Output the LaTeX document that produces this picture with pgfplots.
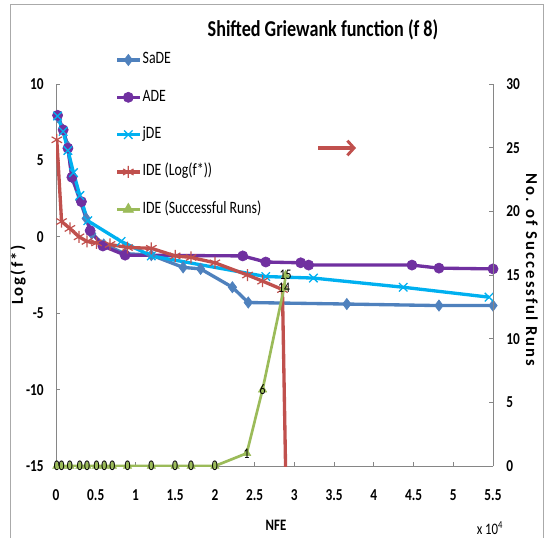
\documentclass[border=0pt]{standalone}
\usepackage{fontspec}
\setmainfont{Carlito}[FakeStretch=0.8]
\newfontfamily\vfont{Carlito}[LetterSpace=12]
\usepackage{pgfplots}
\pgfplotsset{compat=1.18}
\usetikzlibrary{arrows.meta}
\definecolor{sade}{HTML}{4F81BD}
\definecolor{ade}{HTML}{7030A0}
\definecolor{jde}{HTML}{00B0F0}
\definecolor{ide}{HTML}{C0504D}
\definecolor{succ}{HTML}{9BBB59}
\definecolor{axgray}{HTML}{868686}

\pgfplotstableread{
x y
200 7.85
900 7.0
1500 5.9
2000 3.9
3000 2.4
3800 1.2
4500 0.2
6000 -0.5
8700 -1.1
12000 -1.2
16000 -2.0
18200 -2.1
22200 -3.3
24200 -4.3
36600 -4.4
48200 -4.5
55000 -4.5
}\sade
\pgfplotstableread{
x y
200 7.95
900 7.0
1500 5.8
2000 3.9
3200 2.3
4300 0.4
5900 -0.6
8700 -1.2
23500 -1.25
26400 -1.65
30800 -1.7
31800 -1.85
44800 -1.85
48200 -2.05
55000 -2.1
}\ade
\pgfplotstableread{
x y
200 7.9
900 6.9
1500 5.65
2200 4.2
3000 2.7
4000 1.05
8200 -0.3
12000 -1.25
26400 -2.6
32400 -2.7
43700 -3.3
54500 -3.95
}\jde
\pgfplotstableread{
x y
100 6.35
700 1.0
1750 0.55
2900 0.0
3900 -0.3
5100 -0.4
6800 -0.5
9000 -0.7
12000 -0.75
15000 -1.25
17000 -1.35
20000 -1.7
24100 -2.5
26000 -2.9
28500 -3.45
28900 -15.3
}\idelog
\pgfplotstableread{
x y
100 0
700 0
1750 0
3000 0
3900 0
5100 0
6100 0
7100 0
9000 0
12000 0
15000 0
17000 0
20000 0
24000 1
26000 6
28700 14
28900 15
}\idesucc

\begin{document}
\begin{tikzpicture}
\useasboundingbox (0pt,0pt) rectangle (408.75pt,-402.75pt);
\draw[axgray!70, line width=0.6pt] (7.5pt,-3pt) rectangle (407.25pt,-410pt);
\pgfplotsset{
  common/.style={
    at={(42pt,-349.5pt)}, anchor=south west,
    scale only axis, width=327.75pt, height=286.5pt,
    xmin=0, xmax=55000,
    axis line style={draw=axgray, line width=0.6pt, -},
    tick style={draw=axgray, line width=0.6pt},
    major tick length=3pt,
    tick align=inside,
    tick label style={font=\bfseries\fontsize{12.5}{14}\selectfont, inner sep=0pt},
    /pgf/number format/assume math mode=true,
  }
}
\begin{axis}[common,
  axis x line*=bottom, axis y line*=left,
  ymin=-15, ymax=10, ytick={-15,-10,...,10},
  xtick={0,5000,...,55000},
  xticklabels={0,0.5,1,1.5,2,2.5,3,3.5,4,4.5,5,5.5},
  scaled x ticks=false,
  xticklabel style={yshift=-17.5pt},
  yticklabel style={xshift=-9pt},
  legend style={at={(0.126,1.095)}, anchor=north west, draw=none, fill=none,
    font=\fontsize{13}{14}\selectfont, row sep=14pt,
    nodes={inner sep=1pt, text height=9pt, text depth=3pt}},
  legend cell align=left,
  legend image code/.code={
    \draw[#1] (0pt,0pt) -- (17pt,0pt);
    \draw[#1, mark repeat=2, mark phase=2] plot coordinates {(0pt,0pt) (8.5pt,0pt) (17pt,0pt)};
  },
]
\addplot[color=sade, line width=2.5pt, mark=diamond*, mark size=4.2pt, mark options={solid, line width=0.5pt}] table[x=x,y=y] {\sade};
\addlegendentry{SaDE}
\addplot[color=ade, line width=2.5pt, mark=*, mark size=3.8pt, mark options={solid, line width=0.5pt}] table[x=x,y=y] {\ade};
\addlegendentry{ADE}
\addplot[color=jde, line width=2.5pt, mark=x, mark size=4.5pt, mark options={solid, line width=1pt}] table[x=x,y=y] {\jde};
\addlegendentry{jDE}
\addplot[color=ide, line width=2.5pt, mark=asterisk, mark size=4.5pt, mark options={solid, line width=0.9pt}] table[x=x,y=y] {\idelog};
\addlegendentry{IDE (Log(f*))}
\addlegendimage{color=succ, line width=2.5pt, mark=triangle*, mark size=4.5pt, mark options={solid, line width=0.5pt}}
\addlegendentry{IDE (Successful Runs)}
\end{axis}
\begin{axis}[common,
  axis y line*=right, axis x line=none,
  ymin=0, ymax=30, ytick={0,5,...,30},
  yticklabel style={xshift=9.75pt},
]
\addplot[color=succ, line width=2pt, mark=triangle*, mark size=3.6pt, mark options={solid, line width=0.4pt},
  nodes near coords, every node near coord/.append style={anchor=center, text=black, font=\fontsize{11}{12}\selectfont, inner sep=0pt}]
  table[x=x,y=y] {\idesucc};
\end{axis}
\node[font=\bfseries\fontsize{17}{19}\selectfont] at (242.25pt,-22.5pt) {Shifted Griewank function (f 8)};
\node[font=\vfont\bfseries\fontsize{12.5}{14}\selectfont, rotate=90] at (13.5pt,-206.25pt) {Log(f*)};
\node[font=\vfont\bfseries\fontsize{12.5}{14}\selectfont, rotate=-90] at (399pt,-202.5pt) {No. of Successful Runs};
\node[font=\bfseries\fontsize{12}{14}\selectfont] at (207pt,-393.75pt) {NFE};
\node[font=\fontsize{12}{14}\selectfont] at (367.5pt,-396pt) {x 10\textsuperscript{4}};
\draw[ide, line width=3pt, -{Straight Barb[length=5pt,width=11pt,line width=2.2pt]}] (238.5pt,-111pt) -- (267pt,-111pt);
\end{tikzpicture}
\end{document}
